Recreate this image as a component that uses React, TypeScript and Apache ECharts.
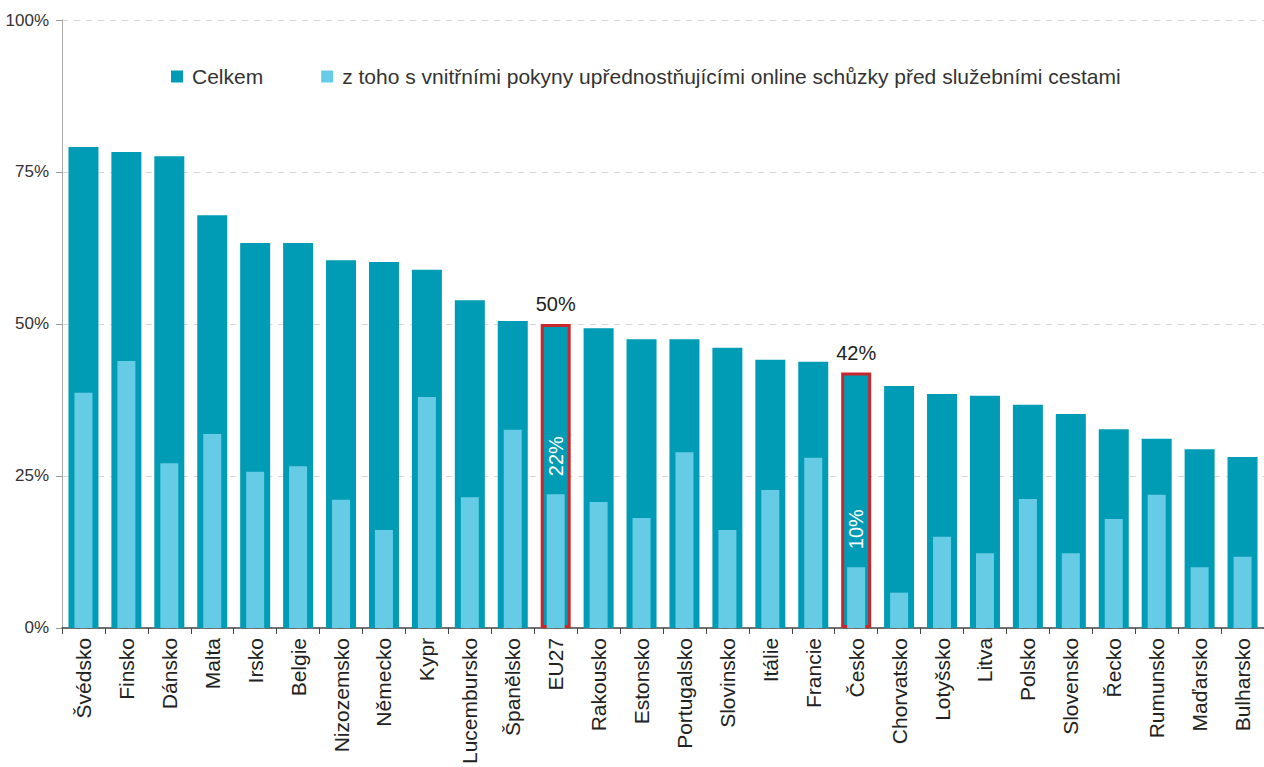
import React, { useEffect, useRef } from "react";
import * as echarts from "echarts";

const categories = [
  "Švédsko", "Finsko", "Dánsko", "Malta", "Irsko", "Belgie", "Nizozemsko", "Německo", "Kypr",
  "Lucembursko", "Španělsko", "EU27", "Rakousko", "Estonsko", "Portugalsko", "Slovinsko", "Itálie",
  "Francie", "Česko", "Chorvatsko", "Lotyšsko", "Litva", "Polsko", "Slovensko", "Řecko", "Rumunsko",
  "Maďarsko", "Bulharsko",
];
const totalValues = [
  79.1, 78.3, 77.6, 67.9, 63.3, 63.3, 60.5, 60.2, 58.9, 53.9, 50.5, 50, 49.3, 47.5, 47.5, 46.1, 44.1,
  43.8, 42, 39.8, 38.5, 38.2, 36.7, 35.2, 32.7, 31.1, 29.4, 28.1,
];
const guidelineValues = [
  38.7, 43.9, 27.1, 31.9, 25.7, 26.6, 21.1, 16.1, 38.0, 21.5, 32.6, 22, 20.7, 18.1, 28.9, 16.1, 22.7,
  28.0, 10, 5.8, 15.0, 12.3, 21.2, 12.3, 17.9, 21.9, 10.0, 11.7,
];
const highlighted = ["EU27", "Česko"];
const seriesNames = [
  "Celkem",
  "z toho s vnitřními pokyny upřednostňujícími online schůzky před služebními cestami",
];
const yTicks = [0, 25, 50, 75, 100];

const FONT = "'Liberation Sans', Arial, sans-serif";
const TEAL = "#009bb4";
const LIGHT = "#66cce6";
const RED = "#c8282c";

export default function App() {
  const ref = useRef<HTMLDivElement>(null);
  useEffect(() => {
    if (!ref.current) return;
    const chart = echarts.init(ref.current, undefined, { renderer: "svg" });
    const outerData = totalValues.map((v, i) => {
      const hl = highlighted.includes(categories[i]);
      return hl
        ? {
            value: v,
            itemStyle: { borderColor: RED, borderWidth: 3 },
            label: {
              show: true,
              position: "top",
              distance: 10,
              formatter: Math.round(v) + "%",
              fontSize: 20,
              color: "#222",
              fontFamily: FONT,
            },
          }
        : v;
    });
    const innerData = guidelineValues.map((v, i) => {
      const hl = highlighted.includes(categories[i]);
      return hl
        ? {
            value: v,
            label: {
              show: true,
              position: "top",
              rotate: 90,
              align: "left",
              verticalAlign: "middle",
              distance: 18,
              formatter: Math.round(v) + "%",
              fontSize: 20,
              color: "#ffffff",
              fontFamily: FONT,
            },
          }
        : v;
    });
    chart.setOption({
      animation: false,
      textStyle: { fontFamily: FONT },
      legend: {
        left: 166,
        top: 61,
        icon: "rect",
        itemWidth: 12,
        itemHeight: 12,
        itemGap: 58,
        textStyle: { fontSize: 21, color: "#333", fontFamily: FONT, padding: [0, 0, 0, 4] },
        data: seriesNames,
      },
      grid: { left: 62, right: 0, top: 20, bottom: 139, containLabel: false },
      xAxis: [
        {
          type: "category",
          data: categories,
          axisLine: { lineStyle: { color: "#444", width: 1.5 } },
          axisTick: { show: true, length: 6, lineStyle: { color: "#444" } },
          axisLabel: {
            rotate: 90,
            fontSize: 21,
            color: "#222",
            margin: 10,
            interval: 0,
            fontFamily: FONT,
          },
        },
        {
          type: "category",
          data: categories,
          show: false,
        },
      ],
      yAxis: {
        type: "value",
        min: 0,
        max: 100,
        interval: 25,
        axisLine: { show: true, lineStyle: { color: "#aaa" } },
        axisTick: { show: true, length: 6, lineStyle: { color: "#999" } },
        axisLabel: {
          formatter: (v: number) => (yTicks.includes(v) ? v + "%" : ""),
          fontSize: 17,
          color: "#333",
          margin: 13,
          fontFamily: FONT,
        },
        splitLine: { show: true, lineStyle: { type: [6, 6], color: "#d8d8d8" } },
      },
      series: [
        {
          name: seriesNames[0],
          type: "bar",
          xAxisIndex: 0,
          barWidth: 30,
          itemStyle: { color: TEAL },
          data: outerData,
          z: 2,
        },
        {
          name: seriesNames[1],
          type: "bar",
          xAxisIndex: 1,
          barWidth: 18,
          itemStyle: { color: LIGHT },
          data: innerData,
          z: 3,
        },
      ],
    });
    return () => chart.dispose();
  }, []);
  return (
    <div
      ref={ref}
      style={{ position: "fixed", left: 0, top: 0, width: 1264, height: 767, background: "#fff" }}
    />
  );
}
